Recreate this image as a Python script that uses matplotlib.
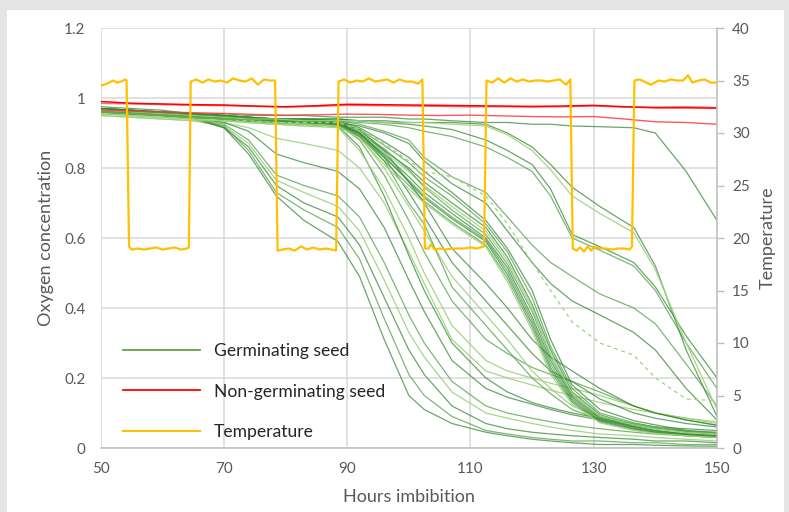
import matplotlib
matplotlib.use("Agg")
import matplotlib.pyplot as plt
from matplotlib.lines import Line2D
from matplotlib.patches import Rectangle

plt.rcParams['font.family'] = ['Lato', 'DejaVu Sans']

# ---------------- data ----------------
hours = [50, 55, 60, 65, 70, 74, 78.5, 83, 88.5, 92, 96, 100, 102.5, 107,
         112.5, 116, 120, 123, 126.5, 131, 136.5, 140, 145, 150]

# early germinating seeds
germ_early = [
    [0.955,0.95,0.945,0.94,0.93,0.915,0.885,0.87,0.85,0.80,0.70,0.56,0.47,0.31,0.22,0.20,0.18,0.165,0.15,0.13,0.11,0.10,0.085,0.07],
    [0.96,0.955,0.95,0.945,0.93,0.905,0.84,0.815,0.79,0.74,0.63,0.48,0.39,0.25,0.17,0.145,0.125,0.11,0.095,0.08,0.065,0.055,0.048,0.042],
    [0.965,0.96,0.955,0.945,0.925,0.88,0.78,0.75,0.72,0.66,0.53,0.38,0.30,0.19,0.12,0.10,0.085,0.075,0.065,0.055,0.045,0.04,0.035,0.03],
    [0.95,0.945,0.94,0.935,0.92,0.87,0.765,0.73,0.69,0.62,0.48,0.33,0.26,0.16,0.10,0.085,0.07,0.06,0.05,0.04,0.035,0.03,0.025,0.02],
    [0.96,0.955,0.95,0.94,0.915,0.86,0.75,0.70,0.66,0.58,0.43,0.28,0.21,0.12,0.07,0.055,0.045,0.04,0.035,0.03,0.025,0.02,0.02,0.015],
    [0.965,0.96,0.955,0.945,0.92,0.85,0.73,0.68,0.63,0.54,0.37,0.21,0.15,0.09,0.05,0.04,0.03,0.025,0.02,0.02,0.015,0.015,0.01,0.01],
    [0.97,0.965,0.955,0.945,0.915,0.84,0.72,0.65,0.59,0.49,0.31,0.15,0.11,0.07,0.045,0.035,0.025,0.02,0.015,0.01,0.01,0.008,0.006,0.005],
]
germ_early_shade = ['light', 'dark', 'mid', 'light', 'dark', 'mid', 'dark']

# germinating seeds dropping after the second warm phase
germ_mid = [
    [0.96,0.955,0.95,0.945,0.94,0.935,0.93,0.925,0.92,0.86,0.72,0.55,0.45,0.30,0.20,0.16,0.13,0.115,0.10,0.085,0.07,0.06,0.055,0.05],
    [0.955,0.95,0.945,0.94,0.935,0.93,0.925,0.92,0.915,0.85,0.74,0.60,0.50,0.35,0.25,0.22,0.20,0.185,0.17,0.15,0.12,0.10,0.085,0.075],
    [0.965,0.96,0.955,0.95,0.945,0.94,0.935,0.93,0.925,0.88,0.78,0.65,0.56,0.42,0.31,0.27,0.23,0.21,0.19,0.16,0.12,0.10,0.08,0.065],
    [0.96,0.955,0.95,0.945,0.94,0.935,0.93,0.93,0.925,0.9,0.83,0.73,0.66,0.53,0.42,0.35,0.27,0.22,0.19,0.14,0.1,0.085,0.07,0.06],
    [0.95,0.945,0.94,0.935,0.935,0.93,0.925,0.92,0.92,0.89,0.8,0.69,0.62,0.49,0.38,0.31,0.22,0.17,0.12,0.09,0.07,0.06,0.05,0.04],
    [0.965,0.96,0.955,0.95,0.945,0.94,0.935,0.935,0.93,0.9,0.82,0.70,0.64,0.46,0.35,0.28,0.2,0.155,0.11,0.08,0.06,0.05,0.04,0.035],
    [0.96,0.955,0.95,0.945,0.94,0.935,0.93,0.93,0.93,0.91,0.85,0.76,0.70,0.57,0.47,0.40,0.31,0.26,0.22,0.17,0.12,0.1,0.08,0.065],
]
germ_mid_shade = ['dark', 'light', 'mid', 'dark', 'light', 'mid', 'dark']

# main cluster of germinating seeds
germ_cluster = [
    [0.97,0.965,0.96,0.955,0.95,0.945,0.94,0.94,0.935,0.915,0.875,0.83,0.79,0.73,0.65,0.57,0.45,0.31,0.18,0.11,0.078,0.066,0.05,0.045],
    [0.965,0.96,0.955,0.95,0.945,0.94,0.935,0.935,0.93,0.91,0.865,0.815,0.775,0.72,0.64,0.56,0.43,0.29,0.17,0.10,0.072,0.06,0.048,0.042],
    [0.96,0.955,0.95,0.945,0.94,0.935,0.93,0.93,0.925,0.9,0.85,0.80,0.76,0.70,0.63,0.545,0.41,0.28,0.16,0.095,0.067,0.056,0.045,0.04],
    [0.955,0.95,0.945,0.94,0.935,0.93,0.925,0.925,0.92,0.895,0.845,0.79,0.75,0.69,0.62,0.535,0.40,0.27,0.155,0.092,0.066,0.055,0.045,0.04],
    [0.97,0.965,0.96,0.955,0.95,0.945,0.94,0.935,0.93,0.905,0.855,0.795,0.745,0.68,0.61,0.525,0.39,0.26,0.15,0.088,0.062,0.05,0.04,0.035],
    [0.965,0.96,0.955,0.95,0.945,0.94,0.935,0.93,0.925,0.895,0.84,0.775,0.73,0.67,0.60,0.515,0.375,0.25,0.145,0.084,0.06,0.048,0.04,0.035],
    [0.96,0.955,0.95,0.945,0.94,0.935,0.93,0.925,0.92,0.89,0.83,0.765,0.72,0.66,0.595,0.505,0.365,0.24,0.14,0.08,0.057,0.045,0.038,0.033],
    [0.975,0.97,0.965,0.955,0.95,0.945,0.94,0.935,0.93,0.9,0.835,0.76,0.715,0.655,0.59,0.495,0.355,0.23,0.135,0.077,0.055,0.045,0.037,0.032],
    [0.965,0.96,0.955,0.95,0.945,0.94,0.935,0.93,0.925,0.89,0.82,0.75,0.705,0.645,0.58,0.485,0.345,0.22,0.13,0.074,0.053,0.043,0.035,0.03],
    [0.96,0.955,0.95,0.945,0.94,0.935,0.93,0.925,0.92,0.885,0.81,0.74,0.70,0.64,0.575,0.475,0.335,0.21,0.125,0.072,0.05,0.042,0.035,0.03],
]
germ_cluster_shade = ['dark', 'mid', 'dark', 'light', 'mid', 'dark', 'mid', 'dark', 'mid', 'light']

# late germinating seeds
germ_late = [
    [0.97,0.965,0.96,0.955,0.95,0.945,0.94,0.94,0.935,0.925,0.905,0.88,0.83,0.775,0.73,0.66,0.58,0.53,0.49,0.44,0.40,0.355,0.24,0.12],
    [0.965,0.96,0.955,0.95,0.945,0.94,0.935,0.935,0.93,0.92,0.9,0.87,0.82,0.755,0.70,0.62,0.53,0.47,0.42,0.38,0.33,0.28,0.17,0.08],
    [0.965,0.96,0.955,0.95,0.945,0.94,0.94,0.94,0.94,0.935,0.93,0.925,0.92,0.91,0.88,0.85,0.81,0.74,0.61,0.575,0.53,0.46,0.32,0.2],
    [0.96,0.955,0.95,0.945,0.94,0.935,0.935,0.935,0.935,0.93,0.925,0.915,0.905,0.89,0.86,0.83,0.79,0.72,0.60,0.565,0.52,0.45,0.30,0.17],
    [0.97,0.965,0.96,0.955,0.95,0.945,0.94,0.94,0.94,0.935,0.935,0.93,0.93,0.93,0.925,0.9,0.86,0.81,0.745,0.69,0.63,0.52,0.28,0.09],
    [0.965,0.96,0.955,0.95,0.945,0.94,0.94,0.935,0.935,0.935,0.93,0.93,0.93,0.925,0.92,0.895,0.85,0.795,0.72,0.67,0.615,0.51,0.3,0.11],
    [0.97,0.965,0.96,0.955,0.955,0.95,0.95,0.95,0.945,0.945,0.945,0.94,0.94,0.935,0.93,0.93,0.925,0.925,0.92,0.918,0.915,0.90,0.79,0.65],
]
germ_late_shade = ['mid', 'dark', 'dark', 'mid', 'dark', 'light', 'dark']

# dashed germinating seed
germ_dashed = [0.955,0.95,0.945,0.94,0.935,0.935,0.93,0.93,0.93,0.91,0.87,0.82,0.79,0.775,0.72,0.64,0.53,0.45,0.36,0.30,0.265,0.2,0.14,0.135]

# non-germinating seeds
red_hours = [50, 55, 60, 65, 70, 75, 80, 85, 90, 95, 100, 105, 110, 115, 120, 125, 130, 135, 140, 145, 150]
red_1 = [0.99,0.985,0.983,0.981,0.98,0.977,0.975,0.978,0.982,0.981,0.98,0.979,0.978,0.977,0.976,0.977,0.979,0.975,0.972,0.972,0.971]
red_2 = [0.985,0.983,0.981,0.979,0.978,0.976,0.974,0.976,0.979,0.978,0.977,0.976,0.975,0.975,0.974,0.975,0.977,0.974,0.974,0.975,0.973]
red_3 = [0.966,0.962,0.96,0.958,0.956,0.953,0.951,0.952,0.954,0.953,0.951,0.95,0.951,0.949,0.947,0.946,0.947,0.94,0.932,0.93,0.925]

# temperature
temp_hours = [50, 51, 52, 52.7, 53.3, 54, 54.2,
              54.6, 55, 56, 57, 58, 59, 60, 61, 62, 63, 64, 64.3,
              64.6, 65.5, 66.5, 67.5, 68.5, 69.5, 70.5, 71.5, 72.5, 73.5, 74.5, 75.5, 76.5, 77.5, 78.3,
              78.7, 79.5, 80.5, 81.5, 82.5, 83.5, 84.5, 85.5, 86.5, 87.5, 88.2,
              88.6, 89.5, 90.5, 91.5, 92.5, 93.5, 94.5, 95.5, 96.5, 97.5, 98.5, 99.5, 100.5, 101.5, 102.2,
              102.6, 103.2, 103.6, 104.2, 105, 106, 107, 108, 109, 110, 111, 112.2,
              112.6, 113.5, 114.5, 115.5, 116.5, 117.5, 118.5, 119.5, 120.5, 121.5, 122.5, 123.5, 124.5, 125.5, 126.2,
              126.6, 127.2, 127.8, 128.4, 129, 129.6, 130.2, 131, 132, 133, 134, 135, 135.8, 136.2,
              136.6, 137.5, 138.5, 139.3, 140.5, 141.5, 142.5, 143.5, 144.5, 145.3, 146, 147, 148, 149, 150]
temp_values = [34.5, 34.7, 35.0, 34.8, 34.9, 35.1, 35.0,
               19.2, 18.9, 19.0, 18.9, 19.0, 19.1, 18.9, 19.0, 19.1, 18.9, 19.0, 19.1,
               34.9, 35.1, 34.8, 35.1, 34.9, 35.0, 34.8, 35.2, 35.0, 34.9, 35.2, 34.6, 35.1, 35.0, 35.0,
               18.8, 18.9, 19.0, 18.8, 19.2, 18.9, 19.1, 18.9, 19.0, 18.9, 18.8,
               34.9, 35.1, 34.8, 35.0, 34.9, 35.2, 34.9, 35.0, 35.1, 34.8, 35.1, 34.9, 34.9, 34.7, 35.1,
               19.0, 19.0, 19.4, 18.9, 19.0, 18.9, 19.0, 19.0, 19.0, 19.1, 19.0, 19.2,
               35.0, 34.8, 35.2, 34.8, 35.2, 34.9, 35.1, 34.9, 35.0, 35.0, 34.9, 35.0, 35.1, 34.6, 35.1,
               19.0, 18.8, 19.1, 18.7, 19.2, 18.8, 19.2, 19.0, 19.0, 18.9, 19.0, 19.0, 18.9, 19.2,
               35.0, 35.1, 34.8, 34.6, 35.0, 34.9, 35.1, 35.0, 35.0, 35.5, 34.8, 35.0, 35.1, 34.8, 34.8]

x_ticks = [50, 70, 90, 110, 130, 150]
y_ticks = [0, 0.2, 0.4, 0.6, 0.8, 1.0, 1.2]
y_tick_labels = ['0', '0.2', '0.4', '0.6', '0.8', '1', '1.2']
t_ticks = [0, 5, 10, 15, 20, 25, 30, 35, 40]
legend_labels = ['Germinating seed', 'Non-germinating seed', 'Temperature']

# ---------------- styles ----------------
shade_color = {'dark': '#2f852f', 'mid': '#4a9d42', 'light': '#9fd27c'}
shade_alpha = {'dark': 0.72, 'mid': 0.72, 'light': 0.9}
GRID = '#d9d9d9'
TXT = '#595959'

W, H = 789, 512
fig = plt.figure(figsize=(W / 100, H / 100), dpi=100, facecolor='#e4e4e4')
card = Rectangle((7 / W, 0), (784 - 7) / W, (512 - 10) / H,
                 transform=fig.transFigure, facecolor='white',
                 edgecolor='none', zorder=-10)
fig.patches.append(card)

left, right, top, bottom = 100.7, 717, 28, 448
ax = fig.add_axes([left / W, 1 - bottom / H, (right - left) / W, (bottom - top) / H])
ax.set_facecolor('none')

def draw_group(series, shades):
    for s, sh in zip(series, shades):
        ax.plot(hours, s, color=shade_color[sh], alpha=shade_alpha[sh], lw=0.9,
                solid_joinstyle='round', zorder=2)

draw_group(germ_early, germ_early_shade)
draw_group(germ_mid, germ_mid_shade)
draw_group(germ_cluster, germ_cluster_shade)
draw_group(germ_late, germ_late_shade)
ax.plot(hours, germ_dashed, color=shade_color['light'], lw=0.9, ls=(0, (3, 3)), zorder=2)

ax.plot(red_hours, red_3, color='#ff3b3b', alpha=0.85, lw=1.0, zorder=3)
ax.plot(red_hours, red_2, color='#ff3030', alpha=0.7, lw=1.0, zorder=3)
ax.plot(red_hours, red_1, color='#ff0000', lw=1.1, zorder=3)

ax.set_xlim(50, 150)
ax.set_ylim(0, 1.2)
ax.set_xticks(x_ticks)
ax.set_yticks(y_ticks)
ax.set_yticklabels(y_tick_labels)
ax.grid(True, color=GRID, lw=1.1, zorder=0)
ax.set_axisbelow(True)
ax.tick_params(axis='both', length=0, colors=TXT, labelsize=11)
ax.tick_params(axis='y', pad=11)
ax.tick_params(axis='x', pad=10)
for sp in ['left', 'top', 'right']:
    ax.spines[sp].set_visible(False)
ax.spines['bottom'].set_color('#bfbfbf')
ax.spines['bottom'].set_linewidth(1.1)
ax.set_xlabel('Hours imbibition', color=TXT, fontsize=13)
ax.xaxis.set_label_coords(0.5, -0.098)
ax.set_ylabel('Oxygen concentration', color=TXT, fontsize=13)
ax.yaxis.set_label_coords(-0.075, 0.5)

ax2 = ax.twinx()
ax2.plot(temp_hours, temp_values, color='#ffc000', lw=1.6, zorder=4)
ax2.set_ylim(0, 40)
ax2.set_yticks(t_ticks)
ax2.tick_params(axis='y', length=5, width=1.0, color='#bfbfbf', labelcolor=TXT,
                labelsize=11, pad=6)
for sp in ['left', 'top', 'bottom']:
    ax2.spines[sp].set_visible(False)
ax2.spines['right'].set_color('#bfbfbf')
ax2.spines['right'].set_linewidth(1.1)
ax2.set_ylabel('Temperature', color=TXT, fontsize=13)
ax2.yaxis.set_label_coords(1.069, 0.5)

handles = [Line2D([], [], color='#5fa548', lw=1.3),
           Line2D([], [], color='#ff0000', lw=1.3),
           Line2D([], [], color='#ffc000', lw=1.5)]
leg = ax2.legend(handles, legend_labels, loc='upper left',
                 bbox_to_anchor=(0.036, 0.25), frameon=False, fontsize=12.6,
                 handlelength=4.4, handletextpad=0.8, labelspacing=1.4,
                 borderaxespad=0, borderpad=0)
for t in leg.get_texts():
    t.set_color('#262626')

fig.savefig('out.png', dpi=100, facecolor=fig.get_facecolor())
